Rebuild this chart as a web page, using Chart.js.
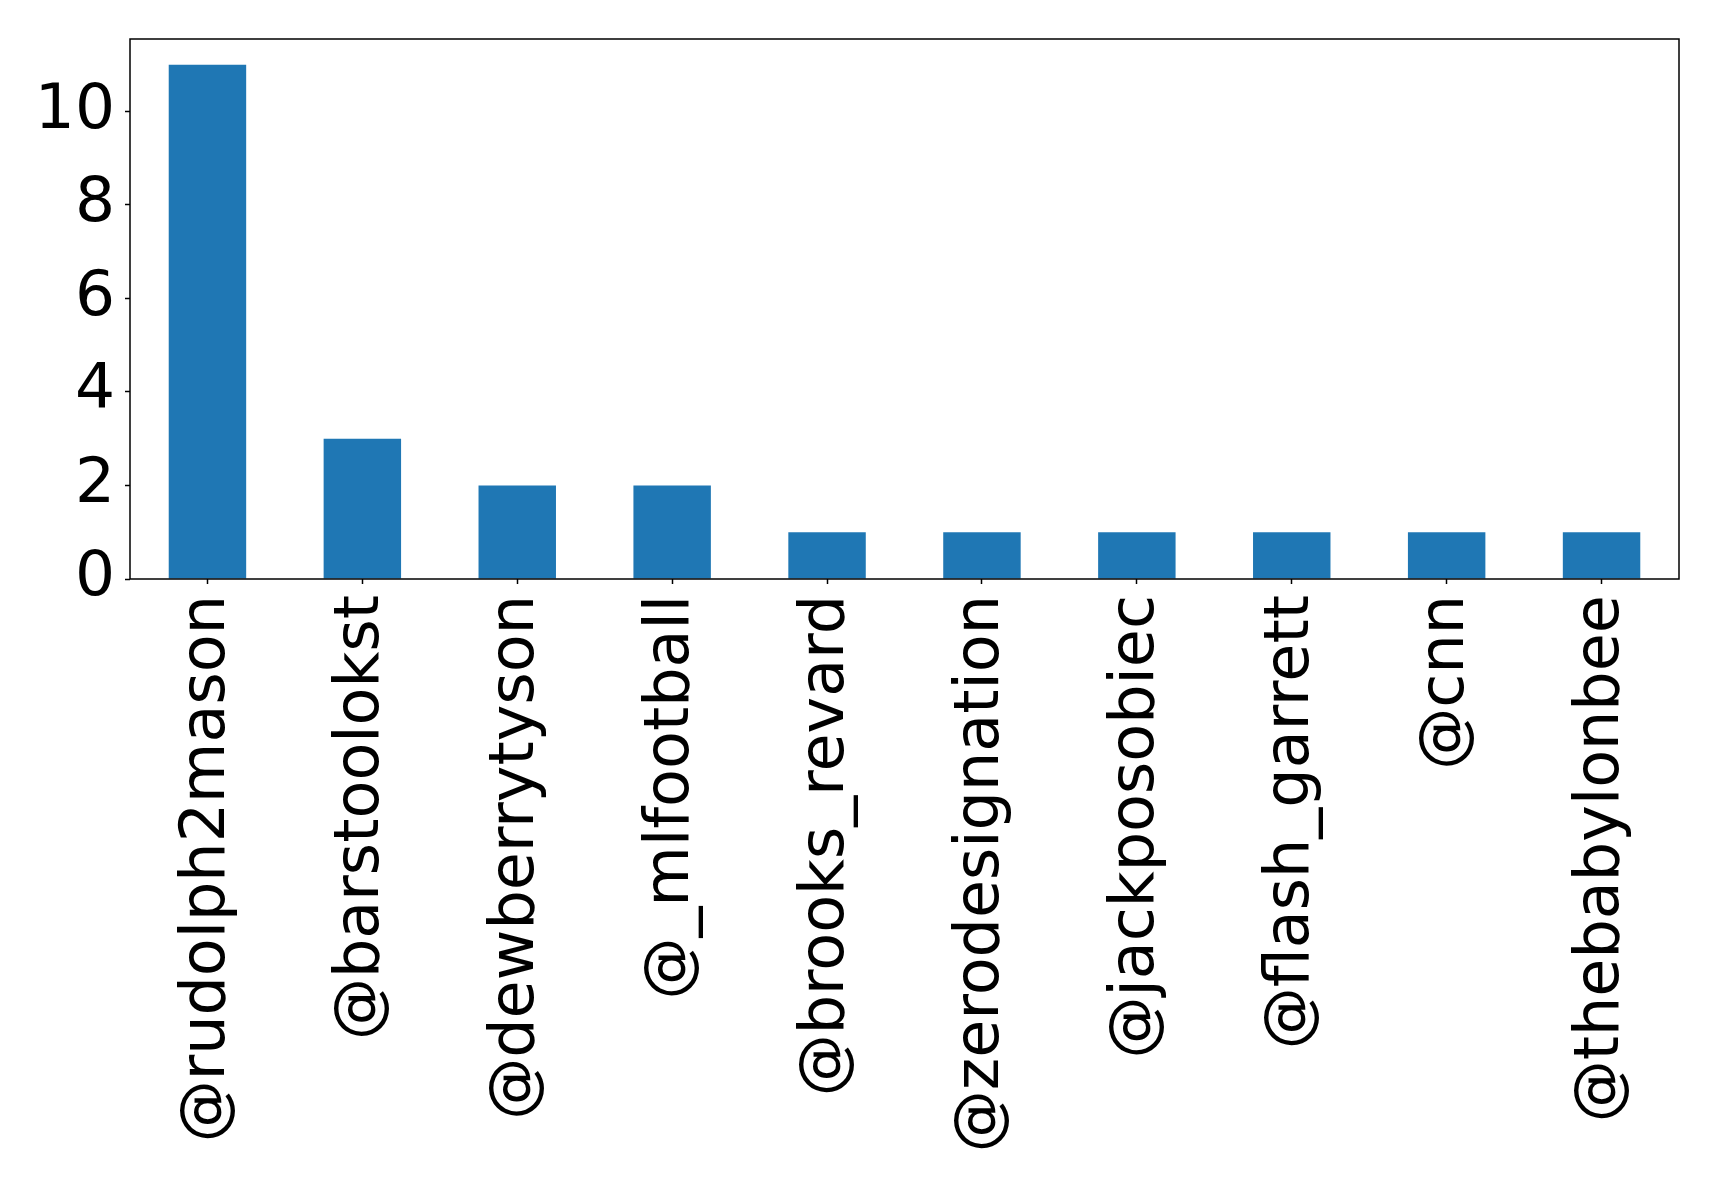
<!DOCTYPE html>
<html>
<head>
<meta charset="utf-8">
<script src="https://cdn.jsdelivr.net/npm/chart.js@4.4.1/dist/chart.umd.min.js"></script>
<style>
  html, body { margin: 0; padding: 0; background: #fff; }
  #wrap { width: 1719px; height: 1189px; }
</style>
</head>
<body>
<div id="wrap"><canvas id="mentionsChart"></canvas></div>
<script>
const handles = [
  "@rudolph2mason", "@barstoolokst", "@dewberrytyson", "@_mlfootball",
  "@brooks_revard", "@zerodesignation", "@jackposobiec", "@flash_garrett",
  "@cnn", "@thebabylonbee"
];
const counts = [11, 3, 2, 2, 1, 1, 1, 1, 1, 1];
const yTicks = [0, 2, 4, 6, 8, 10];

// black frame round the plot area, like matplotlib's spines
const frame = {
  id: "frame",
  afterDraw(chart) {
    const a = chart.chartArea, c = chart.ctx;
    c.save();
    c.strokeStyle = "#000";
    c.lineWidth = 1.5;
    c.strokeRect(a.left, a.top, a.right - a.left, a.bottom - a.top);
    c.restore();
  }
};

const ctx = document.getElementById("mentionsChart");
new Chart(ctx.getContext("2d"), {
  type: "bar",
  data: {
    labels: handles,
    datasets: [{
      data: counts,
      backgroundColor: "#1f77b4",
      categoryPercentage: 1.0,
      barPercentage: 0.5
    }]
  },
  options: {
    responsive: true,
    maintainAspectRatio: false,
    animation: false,
    layout: { padding: { left: 0, right: 40, top: 39, bottom: 0 } },
    plugins: { legend: { display: false }, tooltip: { enabled: false } },
    scales: {
      x: {
        offset: true,
        grid: { display: true, offset: false, drawOnChartArea: false, tickLength: 5, color: "#000", tickWidth: 1.5 },
        border: { display: false },
        ticks: {
          color: "#000",
          font: { family: "DejaVu Sans", size: 62 },
          maxRotation: 90, minRotation: 90,
          padding: 11, autoSkip: false
        },
        afterFit(s) { s.height = 1189 - 579; s.paddingLeft = 0; s.paddingRight = 0; }
      },
      y: {
        min: 0, max: 11.55,
        grid: { display: true, drawOnChartArea: false, tickLength: 5, color: "#000", tickWidth: 1.5 },
        border: { display: false },
        ticks: {
          color: "#000",
          font: { family: "DejaVu Sans", size: 63 },
          padding: 10
        },
        afterBuildTicks(s) { s.ticks = yTicks.map(v => ({ value: v })); },
        afterFit(s) { s.width = 130; s.paddingTop = 0; s.paddingBottom = 0; }
      }
    }
  },
  plugins: [frame]
});
</script>
</body>
</html>
